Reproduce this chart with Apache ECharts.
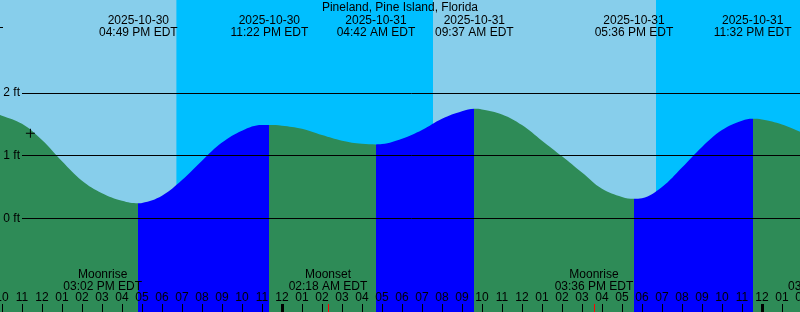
<!DOCTYPE html>
<html>
<head>
<meta charset="utf-8">
<script src="https://cdn.jsdelivr.net/npm/echarts@6/dist/echarts.min.js"></script>
<style>
html,body{margin:0;padding:0;background:#87CEEB;}
#chart{width:800px;height:312px;}
</style>
</head>
<body>
<div id="chart"></div>
<script>
// ---------- data (hours counted from 2025-10-30 00:00 EDT) ----------
const stationName = 'Pineland, Pine Island, Florida';

const tideHours = [9.9, 10, 11, 12, 13, 14, 15, 16, 16.817, 17, 18, 19, 20, 21, 22, 23, 23.367,
  24, 25, 26, 27, 28, 28.7, 29, 30, 31, 32, 33, 33.617, 34, 35, 36, 37, 38, 39, 40, 41, 41.6,
  42, 43, 44, 45, 46, 47, 47.533, 48, 49, 50];
const tideFeet = [1.65, 1.64, 1.51, 1.25, 0.91, 0.60, 0.40, 0.28, 0.24, 0.245, 0.36, 0.61, 0.92, 1.21, 1.40, 1.49, 1.49,
  1.48, 1.43, 1.33, 1.24, 1.19, 1.18, 1.185, 1.27, 1.41, 1.59, 1.71, 1.75, 1.74, 1.66, 1.49, 1.24, 0.99, 0.73, 0.47, 0.34, 0.31,
  0.32, 0.50, 0.81, 1.14, 1.41, 1.56, 1.59, 1.58, 1.50, 1.37];

const eventHours = [16.817, 23.367, 28.7, 33.617, 41.6, 47.533];
const eventKinds = ['low', 'high', 'low', 'high', 'low', 'high'];
const eventDates = ['2025-10-30', '2025-10-30', '2025-10-31', '2025-10-31', '2025-10-31', '2025-10-31'];
const eventClocks = ['04:49 PM EDT', '11:22 PM EDT', '04:42 AM EDT', '09:37 AM EDT', '05:36 PM EDT', '11:32 PM EDT'];

const moonHours = [15.033, 26.3, 39.6, 51.267];
const moonNames = ['Moonrise', 'Moonset', 'Moonrise', 'Moonset'];
const moonClocks = ['03:02 PM EDT', '02:18 AM EDT', '03:36 PM EDT', '03:16 AM EDT'];

const nightStarts = [18.72, 42.7];
const nightEnds = [31.55, 52];
const midnightHours = [24, 48];

const levelFeet = [0, 1, 2];
const levelLabels = ['0 ft', '1 ft', '2 ft'];

const nowHour = 11.42;
const nowFeet = 1.36;
const topMarkFeet = 3.06;

// ---------- layout / style ----------
const FONT = "'Liberation Sans', Arial, sans-serif";
const X_MIN = 9, X_MAX = 52, VIEW_START = 9.9, PX_PER_HOUR = 20;
const Y_MIN = -1.5, Y_MAX = 3.49;
const gridLeft = -(VIEW_START - X_MIN) * PX_PER_HOUR;
const gridWidth = (X_MAX - X_MIN) * PX_PER_HOUR;
const TICK_FT = 8 * (Y_MAX - Y_MIN) / 312;
const GRIDLINE_START = 11.0;

const C_DAY = '#87CEEB', C_NIGHT = '#00BFFF', C_FLOOD = '#0000FF', C_EBB = '#2E8B57';

// flood / ebb pieces
const pieces = [];
let prev = null;
eventHours.forEach((h, i) => {
  const color = eventKinds[i] === 'low' ? C_EBB : C_FLOOD;
  const p = { color };
  if (prev !== null) p.gte = prev;
  p.lt = h;
  pieces.push(p);
  prev = h;
});
pieces.push({ gte: prev, color: eventKinds[eventKinds.length - 1] === 'high' ? C_EBB : C_FLOOD });

const tideData = tideHours.map((h, i) => [h, tideFeet[i]]);

const chart = echarts.init(document.getElementById('chart'), null, { renderer: 'canvas' });

const option = {
  animation: false,
  backgroundColor: C_DAY,
  textStyle: { fontFamily: FONT },
  title: {
    text: stationName, left: 'center', top: 1, padding: 0,
    textStyle: { color: '#000', fontFamily: FONT, fontSize: 12, fontWeight: 'normal', lineHeight: 13 }
  },
  grid: { left: gridLeft, width: gridWidth, top: 0, bottom: 0, containLabel: false, outerBoundsMode: 'none' },
  xAxis: {
    type: 'value', min: X_MIN, max: X_MAX, interval: 1, z: 10,
    axisLine: { show: false, onZero: false },
    splitLine: { show: false },
    axisTick: { show: true, inside: true, length: 8, lineStyle: { color: '#000', width: 1 } },
    axisLabel: {
      show: true, inside: true, margin: 8, interval: 0, hideOverlap: false,
      showMinLabel: true, showMaxLabel: true,
      color: '#000', fontFamily: FONT, fontSize: 12,
      formatter: function (v) {
        const h = ((Math.round(v) % 24) + 24) % 24;
        const h12 = h % 12 === 0 ? 12 : h % 12;
        return String(h12).padStart(2, '0');
      }
    }
  },
  yAxis: { type: 'value', min: Y_MIN, max: Y_MAX, show: false, splitLine: { show: false } },
  visualMap: {
    type: 'piecewise', show: false, dimension: 0, seriesIndex: 0, pieces: pieces
  },
  series: [
    {
      name: 'tide', type: 'line', data: tideData, smooth: 0.4, showSymbol: false, z: 2,
      lineStyle: { width: 0 },
      areaStyle: { opacity: 1, origin: 'start' },
      silent: true,
      markArea: {
        silent: true,
        itemStyle: { color: C_NIGHT, opacity: 1 },
        data: nightStarts.map((s, i) => [{ xAxis: s }, { xAxis: nightEnds[i] }])
      }
    },
    {
      name: 'marks', type: 'line', data: [], z: 5, silent: true,
      markLine: {
        silent: true, symbol: ['none', 'none'], animation: false,
        data: [].concat(
          levelFeet.map((f, i) => [
            { coord: [GRIDLINE_START, f], lineStyle: { color: '#000', width: 1, type: 'solid' },
              label: { show: true, position: 'start', distance: 2, formatter: levelLabels[i], color: '#000', fontFamily: FONT, fontSize: 12 } },
            { coord: [X_MAX, f] }
          ]),
          midnightHours.map(h => [
            { coord: [h, Y_MIN], lineStyle: { color: '#000', width: 3, type: 'solid' }, label: { show: false } },
            { coord: [h, Y_MIN + TICK_FT] }
          ]),
          moonHours.map(h => [
            { coord: [h, Y_MIN], lineStyle: { color: '#FF0000', width: 1, type: 'solid' }, label: { show: false } },
            { coord: [h, Y_MIN + TICK_FT] }
          ]),
          [[
            { coord: [VIEW_START, topMarkFeet], lineStyle: { color: '#000', width: 1, type: 'solid' }, label: { show: false } },
            { coord: [VIEW_START + 0.15, topMarkFeet] }
          ]]
        )
      },
      markPoint: {
        silent: true, animation: false,
        data: [].concat(
          eventHours.map((h, i) => ({
            coord: [h, 0], y: 26.5, symbol: 'rect', symbolSize: 1,
            itemStyle: { color: 'rgba(0,0,0,0)' },
            label: { show: true, position: 'inside', formatter: eventDates[i] + '\n' + eventClocks[i],
              color: '#000', fontFamily: FONT, fontSize: 12, lineHeight: 12, align: 'center' }
          })),
          moonHours.map((h, i) => ({
            coord: [h, 0], y: 280.5, symbol: 'rect', symbolSize: 1,
            itemStyle: { color: 'rgba(0,0,0,0)' },
            label: { show: true, position: 'inside', formatter: moonNames[i] + '\n' + moonClocks[i],
              color: '#000', fontFamily: FONT, fontSize: 12, lineHeight: 12.5, align: 'center' }
          })),
          [{
            coord: [nowHour, nowFeet], symbol: 'path://M4,0h1v4h4v1h-4v4h-1v-4h-4v-1h4z', symbolSize: 9,
            itemStyle: { color: '#000' }, label: { show: false }
          }]
        )
      }
    }
  ]
};
chart.setOption(option);
</script>
</body>
</html>
